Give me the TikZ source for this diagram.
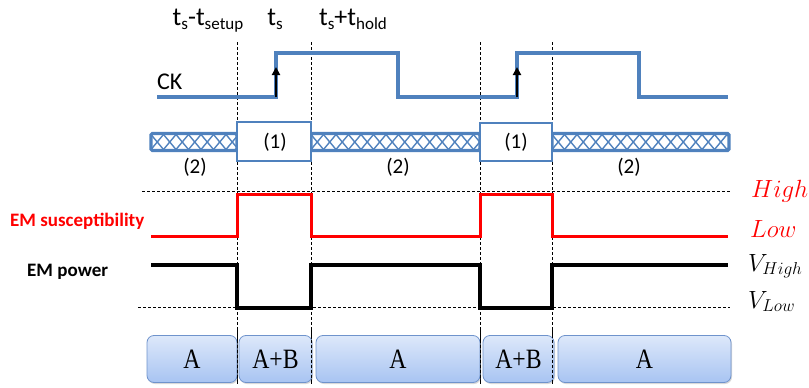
\documentclass[tikz,border=0pt]{standalone}
\usepackage{fontspec}
\setmainfont{Carlito}
\newfontfamily\serifA{Liberation Serif}
\usetikzlibrary{shadows,arrows.meta}
\definecolor{ckblue}{HTML}{4F81BD}
\definecolor{boxtop}{HTML}{DDE8FA}
\definecolor{boxbot}{HTML}{A8C4F2}
\definecolor{boxedge}{HTML}{6F93CC}
\newcommand\subx[1]{\raisebox{-0.4ex}{\fontsize{17}{17}\selectfont #1}}
\newcommand\tallA[1]{\scalebox{0.95}[1.12]{#1}}
\tikzset{
  x=1pt, y=-1pt,
  guide/.style={black, densely dashed, line width=0.6pt},
  wave/.style={ckblue, line width=3.2pt, line join=miter},
  busedge/.style={ckblue, line width=3.2pt, rounded corners=1.5pt},
  hatch/.style={ckblue, line width=1.4pt},
  datbox/.style={draw=ckblue, line width=2.6pt, fill=white},
  sus/.style={red, line width=3pt},
  pow/.style={black, line width=3.2pt},
  phase/.style={draw=boxedge, line width=0.8pt, rounded corners=7pt, top color=boxtop, bottom color=boxbot, drop shadow={shadow xshift=1pt, shadow yshift=-1.5pt, opacity=0.3}, font=\serifA\fontsize{25}{25}\selectfont, inner sep=0pt},
  toplbl/.style={font=\fontsize{26}{26}\selectfont, anchor=base, inner sep=0pt},
  lbl/.style={font=\fontsize{21}{21}\selectfont, inner sep=0pt},
  mlbl/.style={font=\fontsize{23}{23}\selectfont, anchor=base west, inner sep=0pt},
  edgearrow/.style={black, line width=2.6pt, -{Triangle[length=8pt,width=8pt]}}
}
\begin{document}
\begin{tikzpicture}
\useasboundingbox (0,0) rectangle (809,388);
% top time labels
\node[toplbl] (tsetup) at (208,25) {t\subx{s}-t\subx{setup}};
\node[toplbl] (ts) at (275,25) {t\subx{s}};
\node[toplbl] (thold) at (353,25) {t\subx{s}+t\subx{hold}};
% vertical guides
\foreach \x/\n in {237/g1,311/g2,480/g3,552/g4}{
  \coordinate (\n t) at (\x,42);
  \coordinate (\n b) at (\x,384);
  \draw[guide] (\n t) -- (\n b);
}
% CK waveform
\node[lbl, font=\fontsize{24}{24}\selectfont, anchor=base west] (ck) at (157,89) {CK};
\draw[wave] (157,97) -- (276,97) -- (276,53) -- (398,53) -- (398,97) -- (517,97) -- (517,53) -- (639,53) -- (639,97) -- (728,97);
\coordinate (a1s) at (276,97); \coordinate (a1e) at (276,67);
\coordinate (a2s) at (517,97); \coordinate (a2e) at (517,67);
\draw[edgearrow] (a1s) -- (a1e);
\draw[edgearrow] (a2s) -- (a2e);
% data bus hatched segments
\foreach \xa/\xb in {151/237,311/480,552/729}{
  \begin{scope}
    \clip (\xa,134.5) rectangle (\xb,149.5);
    \pgfmathtruncatemacro{\nn}{(\xb-\xa)/12.5+1}
    \foreach \k in {0,...,\nn}{
      \draw[hatch] (\xa+\k*12.5,134.5) -- (\xa+\k*12.5+12.5,149.5);
      \draw[hatch] (\xa+\k*12.5,149.5) -- (\xa+\k*12.5+12.5,134.5);
    }
  \end{scope}
  \draw[busedge] (\xa,133.5) rectangle (\xb,150.5);
}
\draw[datbox] (237,122) rectangle (311,161);
\draw[datbox] (480,123) rectangle (552,161);
\node[lbl] (d1a) at (275,142) {(1)};
\node[lbl] (d1b) at (516,142) {(1)};
\node[lbl] (d2a) at (195,167) {(2)};
\node[lbl] (d2b) at (398,167) {(2)};
\node[lbl] (d2c) at (629,167) {(2)};
% horizontal guides
\draw[guide] (142,191) -- (730,191);
\draw[guide] (138,307) -- (730,307);
% EM susceptibility
\node[font=\bfseries\fontsize{19}{19}\selectfont, text=red, anchor=base west, inner sep=0pt] (susl) at (10,226) {EM susceptibility};
\draw[sus] (151,236) -- (237,236) -- (237,194) -- (311,194) -- (311,236) -- (480,236) -- (480,194) -- (552,194) -- (552,236) -- (728,236);
% EM power
\node[font=\bfseries\fontsize{19}{19}\selectfont, anchor=base west, inner sep=0pt] (powl) at (27,276) {EM power};
\draw[pow] (151,265) -- (237,265) -- (237,308) -- (311,308) -- (311,265) -- (480,265) -- (480,308) -- (552,308) -- (552,265) -- (728,265);
% right labels
\node[mlbl, text=red] (hi) at (751,197) {$High$};
\node[mlbl, text=red] (lo) at (750,237) {$Low$};
\node[mlbl] (vhi) at (748,271) {$V_{High}$};
\node[mlbl] (vlo) at (748,308) {$V_{Low}$};
% phase boxes
\node[phase, minimum width=90pt, minimum height=47pt] (p1) at (192,359) {\tallA{A}};
\node[phase, minimum width=73pt, minimum height=47pt] (p2) at (275.5,359) {\tallA{A+B}};
\node[phase, minimum width=164pt, minimum height=47pt] (p3) at (398,359) {\tallA{A}};
\node[phase, minimum width=71pt, minimum height=47pt] (p4) at (518.5,359) {\tallA{A+B}};
\node[phase, minimum width=173pt, minimum height=47pt] (p5) at (644.5,359) {\tallA{A}};
% re-draw guides over boxes
\foreach \n in {g1,g2,g3,g4}{ \draw[guide] (\n t |- 330,330) -- (\n b); }
\end{tikzpicture}
\end{document}
